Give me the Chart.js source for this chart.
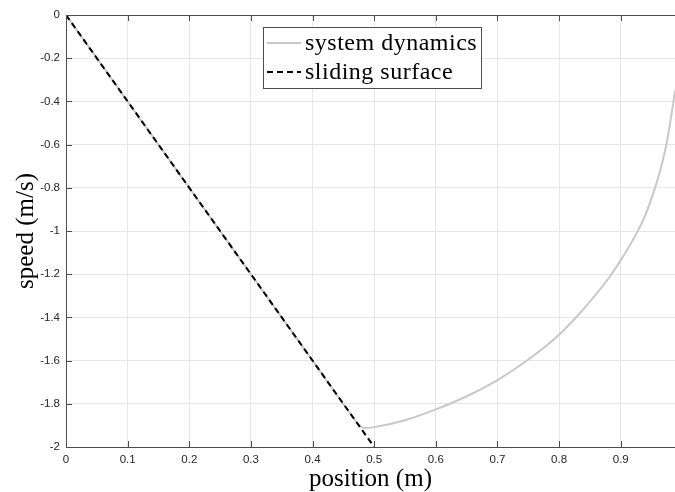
<!DOCTYPE html>
<html>
<head>
<meta charset="utf-8">
<script src="https://cdn.jsdelivr.net/npm/chart.js@4.4.0/dist/chart.umd.min.js"></script>
<style>
  html, body { margin: 0; padding: 0; background: #fff; }
</style>
</head>
<body>
<canvas id="slidingChart" width="675" height="492"></canvas>
<script>
// system dynamics trajectory (position, speed)
const dynPosition = [0, 0.1, 0.2, 0.3, 0.4, 0.47, 0.475, 0.48, 0.485, 0.5, 0.55, 0.6, 0.65, 0.7, 0.75, 0.8, 0.84, 0.88, 0.9, 0.92, 0.94, 0.955, 0.965, 0.975, 0.985, 0.988];
const dynSpeed = [0, -0.4, -0.8, -1.2, -1.6, -1.88, -1.898, -1.908, -1.912, -1.908, -1.876, -1.826, -1.765, -1.69, -1.595, -1.48, -1.36, -1.22, -1.135, -1.04, -0.925, -0.805, -0.71, -0.585, -0.41, -0.35];

// sliding surface s = v + 4x = 0
const surfPosition = [0, 0.5];
const surfSpeed = [0, -2];

const xTicks = [0, 0.1, 0.2, 0.3, 0.4, 0.5, 0.6, 0.7, 0.8, 0.9];
const yTicks = [0, -0.2, -0.4, -0.6, -0.8, -1, -1.2, -1.4, -1.6, -1.8, -2];

const seriesLabels = ['system dynamics', 'sliding surface'];

const axisColor = '#4d4d4d';
const gridColor = '#e6e6e6';
const serifFont = '"Liberation Serif", "Times New Roman", serif';
const tickFont = { family: '"Liberation Sans", Arial, sans-serif', size: 11.5 };

function toPoints(xs, ys) {
  return xs.map((x, i) => ({ x: x, y: ys[i] }));
}

function fmt(v) {
  return String(parseFloat(v.toFixed(1)));
}

// matlab style: box on top, ticks pointing inwards, legend inside the axes
const matlabAxes = {
  id: 'matlabAxes',
  afterDatasetsDraw(chart) {
    const ctx = chart.ctx;
    const area = chart.chartArea;
    const sx = chart.scales.x;
    const sy = chart.scales.y;
    ctx.save();
    ctx.strokeStyle = axisColor;
    ctx.lineWidth = 1;
    ctx.beginPath();
    ctx.moveTo(area.left, area.top + 0.5);
    ctx.lineTo(area.right, area.top + 0.5);
    for (const v of xTicks) {
      const px = Math.round(sx.getPixelForValue(v)) + 0.5;
      ctx.moveTo(px, area.bottom);
      ctx.lineTo(px, area.bottom - 6);
      ctx.moveTo(px, area.top);
      ctx.lineTo(px, area.top + 6);
    }
    for (const v of yTicks) {
      const py = Math.round(sy.getPixelForValue(v)) + 0.5;
      ctx.moveTo(area.left, py);
      ctx.lineTo(area.left + 6, py);
    }
    ctx.stroke();
    ctx.restore();
  },
  afterDraw(chart) {
    const ctx = chart.ctx;
    const sets = chart.data.datasets;
    const box = { x: 263.5, y: 27.5, w: 218, h: 61 };
    ctx.save();
    ctx.fillStyle = '#fff';
    ctx.fillRect(box.x, box.y, box.w, box.h);
    ctx.strokeStyle = axisColor;
    ctx.lineWidth = 1;
    ctx.strokeRect(box.x, box.y, box.w, box.h);
    ctx.font = '24px ' + serifFont;
    if ('letterSpacing' in ctx) ctx.letterSpacing = '0.5px';
    ctx.textBaseline = 'alphabetic';
    ctx.fillStyle = '#000';
    sets.forEach((ds, i) => {
      const ly = 43 + i * 29;
      ctx.strokeStyle = ds.borderColor;
      ctx.lineWidth = ds.borderWidth;
      ctx.setLineDash(ds.borderDash || []);
      ctx.beginPath();
      ctx.moveTo(267, ly);
      ctx.lineTo(301, ly);
      ctx.stroke();
      ctx.setLineDash([]);
      ctx.fillText(ds.label, 305, ly + 7);
    });
    ctx.restore();
  }
};

new Chart(document.getElementById('slidingChart'), {
  type: 'line',
  data: {
    datasets: [
      {
        label: seriesLabels[0],
        data: toPoints(dynPosition, dynSpeed),
        borderColor: '#c8c8c8',
        borderWidth: 2,
        pointRadius: 0,
        cubicInterpolationMode: 'monotone',
        order: 2
      },
      {
        label: seriesLabels[1],
        data: toPoints(surfPosition, surfSpeed),
        borderColor: '#000000',
        borderWidth: 2,
        borderDash: [6, 4],
        pointRadius: 0,
        order: 1
      }
    ]
  },
  options: {
    responsive: false,
    animation: false,
    layout: { padding: { top: 15, right: 0, left: 0, bottom: 0 } },
    plugins: {
      legend: { display: false },
      tooltip: { enabled: false }
    },
    scales: {
      x: {
        type: 'linear',
        min: 0,
        max: 0.988,
        afterBuildTicks: (scale) => { scale.ticks = xTicks.map(v => ({ value: v })); },
        afterFit: (scale) => { scale.height = 45; },
        grid: { color: gridColor, drawTicks: false },
        border: { color: axisColor, width: 1 },
        ticks: {
          padding: 6,
          color: '#262626',
          font: tickFont,
          callback: (v) => fmt(v)
        },
        title: {
          display: true,
          text: 'position (m)',
          color: '#000',
          font: { family: serifFont, size: 25, lineHeight: 1 },
          padding: { top: 0, bottom: 0 }
        }
      },
      y: {
        type: 'linear',
        min: -2,
        max: 0,
        afterBuildTicks: (scale) => { scale.ticks = yTicks.map(v => ({ value: v })); },
        afterFit: (scale) => { scale.width = 66; },
        grid: { color: gridColor, drawTicks: false },
        border: { color: axisColor, width: 1 },
        ticks: {
          padding: 6,
          color: '#262626',
          font: tickFont,
          callback: (v) => fmt(v)
        },
        title: {
          display: true,
          text: 'speed (m/s)',
          color: '#000',
          font: { family: serifFont, size: 25, lineHeight: 1 },
          padding: { top: 13.5, bottom: 0 }
        }
      }
    }
  },
  plugins: [matlabAxes]
});
</script>
</body>
</html>
